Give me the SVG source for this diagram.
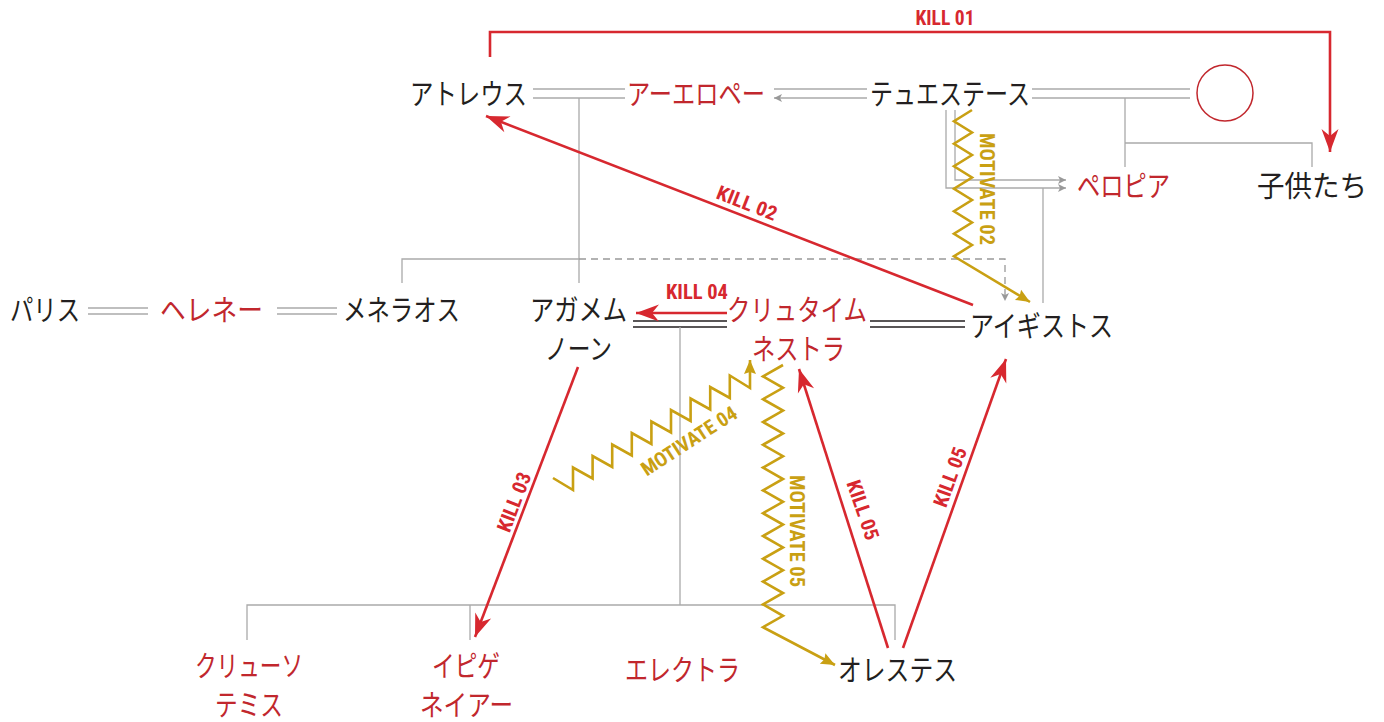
<svg xmlns="http://www.w3.org/2000/svg" width="1384" height="722" viewBox="0 0 1384 722">
<style>
.jp{font-family:"Noto Sans CJK JP","Noto Sans",sans-serif;font-size:29px;}
.dk{fill:#231f20;}
.rd{fill:#c1272d;}
.lbl{font-family:"Roboto Condensed","Liberation Sans Narrow","DejaVu Sans Condensed","Liberation Sans",sans-serif;font-weight:bold;font-size:20px;text-anchor:middle;dominant-baseline:central;}
.kl{fill:#d7282f;}
.mv{fill:#c9a013;}
.g{fill:none;stroke:#aaaaaa;stroke-width:1.3;}
.gd{fill:none;stroke:#999999;stroke-width:1.3;stroke-dasharray:7 5;}
.blk{fill:none;stroke:#231f20;stroke-width:1.5;}
.red{fill:none;stroke:#d7282f;stroke-width:2.6;}
.gold{fill:none;stroke:#c9a013;stroke-width:2.6;stroke-linejoin:miter;}
</style>
<defs>
<marker id="ar" viewBox="-24 -10 26 20" refX="0" refY="0" markerWidth="26" markerHeight="20" markerUnits="userSpaceOnUse" orient="auto">
<path d="M0,0 L-23,-8.5 L-16,0 L-23,8.5 Z" fill="#d7282f"/>
</marker>
<marker id="ag" viewBox="-16 -8 18 16" refX="0" refY="0" markerWidth="18" markerHeight="16" markerUnits="userSpaceOnUse" orient="auto">
<path d="M0,0 L-14,-6 L-12,0 L-14,6 Z" fill="#c9a013"/>
</marker>
<marker id="agr" viewBox="-10 -6 12 12" refX="0" refY="0" markerWidth="12" markerHeight="12" markerUnits="userSpaceOnUse" orient="auto">
<path d="M0,0 L-8,-4 L-6,0 L-8,4 Z" fill="#999999"/>
</marker>
</defs>
<rect width="1384" height="722" fill="#ffffff"/>

<g id="connectors">
<path class="g" d="M533,89 H625 M533,98 H625"/>
<path class="g" d="M867,89 H774 M867,98 H774" marker-end="url(#agr)"/>
<path class="g" d="M1032,89 H1190 M1032,98 H1190"/>
<path class="g" d="M1125,98 V167 M1125,143 H1312 V167"/>
<path class="g" d="M955,110 V180 H1066" marker-end="url(#agr)"/>
<path class="g" d="M946,110 V188 H1066" marker-end="url(#agr)"/>
<path class="g" d="M1043,188 V303"/>
<path class="g" d="M579,98 V283 M579,259 H402 V283"/>
<path class="gd" d="M579,259 H1005 V301" marker-end="url(#agr)"/>
<path class="g" d="M88,308 H148 M88,314 H148"/>
<path class="g" d="M277,308 H337 M277,314 H337"/>
<path class="blk" d="M633,321 H727 M633,327 H727"/>
<path class="blk" d="M870,321 H965 M870,327 H965"/>
<path class="g" d="M680,327 V605 M247,640 V605 H895 V640 M470,605 V640"/>
<path class="red" d="M490,57 V32 H1330 V152" marker-end="url(#ar)"/>
<path class="red" d="M973,305 L486,116" marker-end="url(#ar)"/>
<path class="red" d="M578,367 L475,637" marker-end="url(#ar)"/>
<path class="red" d="M727,313 L636,313" marker-end="url(#ar)"/>
<path class="red" d="M888,648 L799,369" marker-end="url(#ar)"/>
<path class="red" d="M903,648 L1006,359" marker-end="url(#ar)"/>
<path class="gold" d="M972,110 L954,121.25 L972,132.5 L954,143.75 L972,155 L954,166.25 L972,177.5 L954,188.75 L972,200 L954,211.25 L972,222.5 L954,233.75 L972,245 L954,256.25 L1030,302" marker-end="url(#ag)"/>
<path class="gold" d="M553,478 L573,490 L573,467.5 L592.6,478.5 L592.6,456 L612.2,467 L612.2,444.5 L631.8,455.5 L631.8,433 L651.4,444 L651.4,421.5 L671,432.5 L671,410 L690.6,421 L690.6,398.5 L710.2,409.5 L710.2,387 L729.8,398 L729.8,375.5 L750,388 L750,360" marker-end="url(#ag)"/>
<path class="gold" d="M783,365 L763,376.4 L783,387.8 L763,399.2 L783,410.6 L763,422 L783,433.4 L763,444.8 L783,456.2 L763,467.6 L783,479 L763,490.4 L783,501.8 L763,513.2 L783,524.6 L763,536 L783,547.4 L763,558.8 L783,570.2 L763,581.6 L783,593 L763,604.4 L783,615.8 L763,627.2 L835,665" marker-end="url(#ag)"/>
<text class="lbl kl" x="945" y="18" textLength="59" lengthAdjust="spacingAndGlyphs">KILL 01</text>
<text class="lbl kl" transform="translate(747,203) rotate(21.4)" textLength="63" lengthAdjust="spacingAndGlyphs">KILL 02</text>
<text class="lbl kl" transform="translate(514,502) rotate(-69)" textLength="62" lengthAdjust="spacingAndGlyphs">KILL 03</text>
<text class="lbl kl" x="697" y="292" textLength="62" lengthAdjust="spacingAndGlyphs">KILL 04</text>
<text class="lbl kl" transform="translate(863,510) rotate(71)" textLength="62" lengthAdjust="spacingAndGlyphs">KILL 05</text>
<text class="lbl kl" transform="translate(950,477) rotate(-70)" textLength="62" lengthAdjust="spacingAndGlyphs">KILL 05</text>
<text class="lbl mv" transform="translate(987,189) rotate(90)" textLength="112" lengthAdjust="spacingAndGlyphs">MOTIVATE 02</text>
<text class="lbl mv" transform="translate(689,441) rotate(-33)" textLength="110" lengthAdjust="spacingAndGlyphs">MOTIVATE 04</text>
<text class="lbl mv" transform="translate(797,531) rotate(90)" textLength="112" lengthAdjust="spacingAndGlyphs">MOTIVATE 05</text>
</g>

<g id="atreus"><text class="jp dk" x="410" y="105" textLength="117" lengthAdjust="spacingAndGlyphs">アトレウス</text></g>
<g id="aerope"><text class="jp rd" x="627" y="105" textLength="138" lengthAdjust="spacingAndGlyphs">アーエロペー</text></g>
<g id="thyestes"><text class="jp dk" x="870" y="105" textLength="160" lengthAdjust="spacingAndGlyphs">テュエステース</text></g>
<g id="unknown"><circle cx="1225" cy="93" r="28" fill="#ffffff" stroke="#c1272d" stroke-width="1.5"/></g>
<g id="pelopia"><text class="jp rd" x="1077" y="197" textLength="93" lengthAdjust="spacingAndGlyphs">ペロピア</text></g>
<g id="children"><text class="jp dk" x="1257" y="197" textLength="110" lengthAdjust="spacingAndGlyphs">子供たち</text></g>
<g id="paris"><text class="jp dk" x="10" y="321" textLength="70" lengthAdjust="spacingAndGlyphs">パリス</text></g>
<g id="helen"><text class="jp rd" x="160" y="321" textLength="103" lengthAdjust="spacingAndGlyphs">ヘレネー</text></g>
<g id="menelaus"><text class="jp dk" x="343" y="321" textLength="117" lengthAdjust="spacingAndGlyphs">メネラオス</text></g>
<g id="agamemnon"><text class="jp dk" x="530" y="321" textLength="97" lengthAdjust="spacingAndGlyphs">アガメム</text><text class="jp dk" x="545" y="360" textLength="67" lengthAdjust="spacingAndGlyphs">ノーン</text></g>
<g id="clytemnestra"><text class="jp rd" x="727" y="321" textLength="140" lengthAdjust="spacingAndGlyphs">クリュタイム</text><text class="jp rd" x="752" y="360" textLength="93" lengthAdjust="spacingAndGlyphs">ネストラ</text></g>
<g id="aegisthus"><text class="jp dk" x="970" y="337" textLength="143" lengthAdjust="spacingAndGlyphs">アイギストス</text></g>
<g id="chrysothemis"><text class="jp rd" x="195" y="677" textLength="108" lengthAdjust="spacingAndGlyphs">クリューソ</text><text class="jp rd" x="215" y="716" textLength="68" lengthAdjust="spacingAndGlyphs">テミス</text></g>
<g id="iphigenia"><text class="jp rd" x="432" y="677" textLength="68" lengthAdjust="spacingAndGlyphs">イピゲ</text><text class="jp rd" x="420" y="716" textLength="93" lengthAdjust="spacingAndGlyphs">ネイアー</text></g>
<g id="electra"><text class="jp rd" x="625" y="681" textLength="115" lengthAdjust="spacingAndGlyphs">エレクトラ</text></g>
<g id="orestes"><text class="jp dk" x="838" y="681" textLength="119" lengthAdjust="spacingAndGlyphs">オレステス</text></g>
</svg>
